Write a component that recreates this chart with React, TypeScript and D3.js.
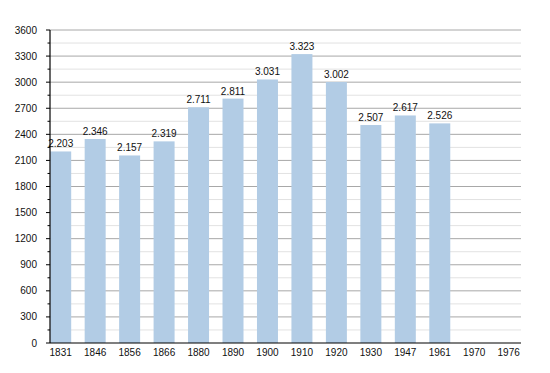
import React from "react";
import * as d3 from "d3";

const years = ["1831","1846","1856","1866","1880","1890","1900","1910","1920","1930","1947","1961","1970","1976"];
const population: (number | null)[] = [2203,2346,2157,2319,2711,2811,3031,3323,3002,2507,2617,2526,null,null];
const yTicks = [0,300,600,900,1200,1500,1800,2100,2400,2700,3000,3300,3600];
const yMinorTicks = d3.range(150, 3600, 300);

export default function App() {
  const W = 550, H = 373;
  const left = 50, right = 521, top = 30, bottom = 343;
  const y = d3.scaleLinear().domain([0, 3600]).range([bottom, top]);
  const x = d3.scalePoint<string>().domain(years).range([60.7, 508.7]);
  const barW = 21;
  const font = "Liberation Sans, Arial, sans-serif";
  const fmt = (v: number) => d3.format(",")(v).replace(",", ".");
  return (
    <svg width={W} height={H} style={{ position: "absolute", left: 0, top: 0, background: "#fff" }} fontFamily={font}>
      {yMinorTicks.map(t => (
        <g key={"m" + t}>
          <line x1={left} x2={right} y1={y(t)} y2={y(t)} stroke="#e2e2e2" strokeWidth={1} />
          <line x1={left - 2.5} x2={left} y1={y(t)} y2={y(t)} stroke="#000" strokeWidth={1} />
        </g>
      ))}
      {yTicks.map(t => (
        <g key={"t" + t}>
          {t > 0 && <line x1={left} x2={right} y1={y(t)} y2={y(t)} stroke="#a8a8a8" strokeWidth={1} />}
          <line x1={left - 4} x2={left} y1={y(t)} y2={y(t)} stroke="#000" strokeWidth={1} />
          <text x={37} y={y(t)} dy="0.35em" textAnchor="end" fontSize={10} fill="#111">{t}</text>
        </g>
      ))}
      {years.map((yr, i) => {
        const v = population[i];
        const cx = x(yr)!;
        return (
          <g key={yr}>
            {v != null && (
              <>
                <rect x={cx - barW / 2} y={y(v)} width={barW} height={bottom - y(v)} fill="#b2cce5" />
                <text x={cx} y={y(v) - 4} textAnchor="middle" fontSize={10} fill="#111">{fmt(v)}</text>
              </>
            )}
            <text x={cx} y={356} textAnchor="middle" fontSize={10} fill="#111">{yr}</text>
          </g>
        );
      })}
      <line x1={left} x2={left} y1={top} y2={bottom} stroke="#000" strokeWidth={1.2} />
      <line x1={left} x2={right} y1={bottom} y2={bottom} stroke="#000" strokeWidth={1.2} />
    </svg>
  );
}
